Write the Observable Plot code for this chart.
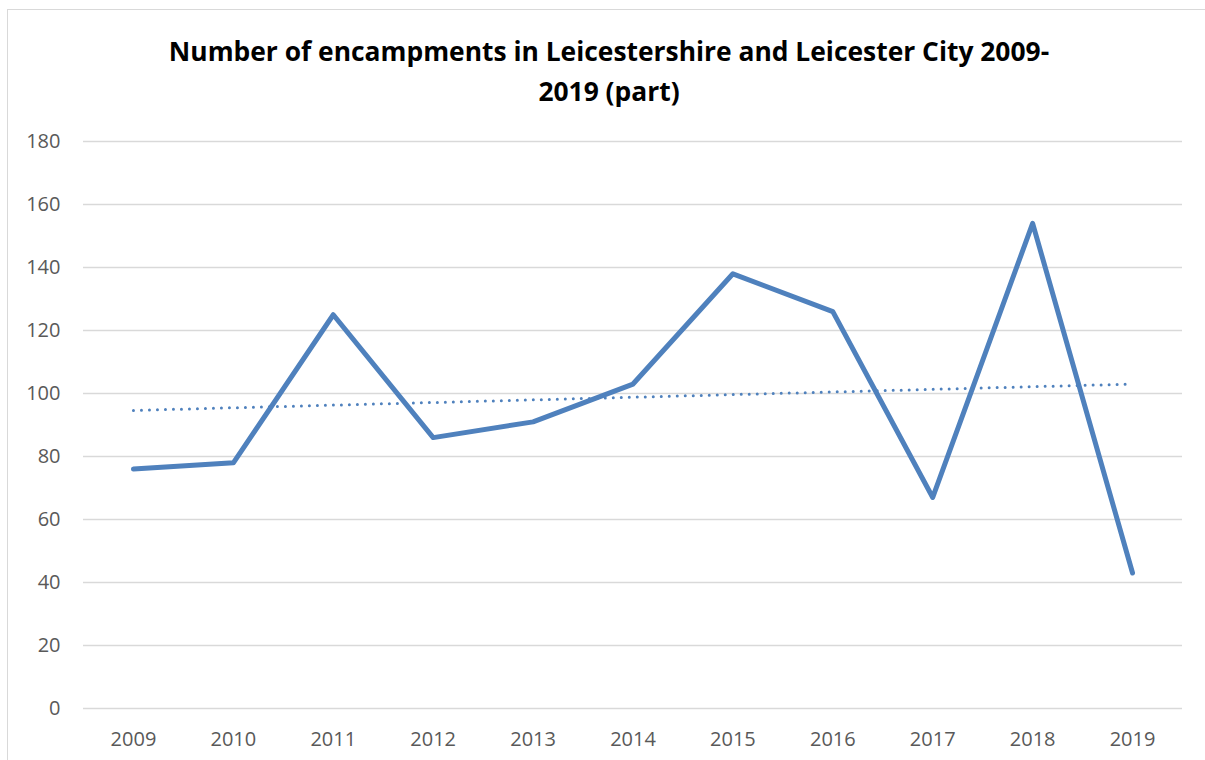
<!DOCTYPE html>
<html>
<head>
<meta charset="utf-8">
<script src="https://cdn.jsdelivr.net/npm/d3@7"></script>
<script src="https://cdn.jsdelivr.net/npm/@observablehq/plot@0.6"></script>
<style>
  html, body { margin: 0; padding: 0; background: #fff; }
  #wrap { position: relative; width: 1205px; height: 760px; overflow: hidden; }
  #frame { position: absolute; left: 7px; top: 9px; width: 1210px; height: 800px; border: 1.3px solid #d9d9d9; box-sizing: border-box; }
  #title { position: absolute; left: 0; top: 31px; width: 1218px; text-align: center; font-family: "Open Sans", sans-serif; font-weight: bold; font-size: 26.4px; line-height: 40px; color: #000; }
  #chart { position: absolute; left: 0; top: 120px; }
</style>
</head>
<body>
<div id="wrap">
  <div id="frame"></div>
  <div id="title">Number of encampments in Leicestershire and Leicester City 2009-<br>2019 (part)</div>
  <div id="chart"></div>
</div>
<script>
const years = [2009, 2010, 2011, 2012, 2013, 2014, 2015, 2016, 2017, 2018, 2019];
const encampments = [76, 78, 125, 86, 91, 103, 138, 126, 67, 154, 43];
const yTicks = [0, 20, 40, 60, 80, 100, 120, 140, 160, 180];

const data = years.map((year, i) => ({year, value: encampments[i]}));

const chart = Plot.plot({
  width: 1205,
  height: 640,
  marginLeft: 83,
  marginRight: 23,
  marginTop: 21,
  marginBottom: 52,
  style: { fontFamily: "'Open Sans', sans-serif", fontSize: "20px", color: "#595959", background: "transparent" },
  x: { type: "linear", domain: [2008.5, 2019.5], ticks: years, tickFormat: d => String(d), tickSize: 0, tickPadding: 23, label: null },
  y: { domain: [0, 180], ticks: yTicks, tickSize: 0, tickPadding: 23, label: null },
  marks: [
    Plot.gridY(yTicks, { stroke: "#d9d9d9", strokeOpacity: 1, strokeWidth: 1.3 }),
    Plot.linearRegressionY(data, { x: "year", y: "value", ci: 0, stroke: "#4f81bd", strokeWidth: 3, strokeDasharray: "0,8", strokeLinecap: "round" }),
    Plot.line(data, { x: "year", y: "value", stroke: "#4f81bd", strokeWidth: 5, strokeLinejoin: "round", strokeLinecap: "round" })
  ]
});
document.getElementById("chart").appendChild(chart);
</script>
</body>
</html>
